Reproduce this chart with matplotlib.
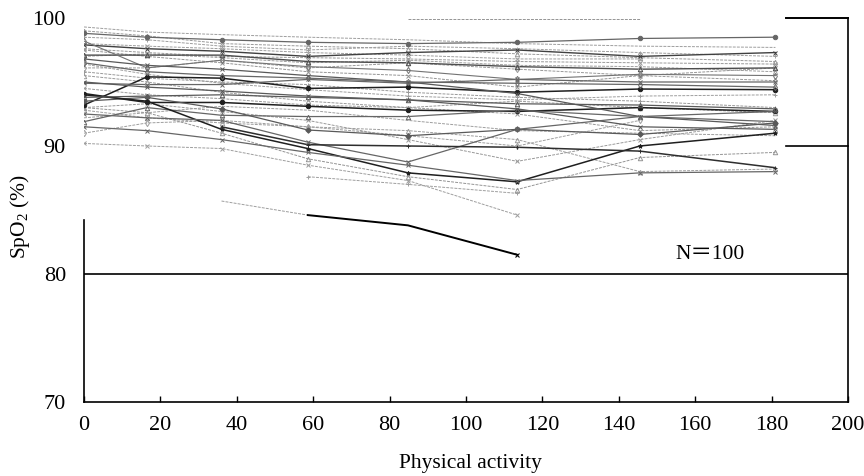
import numpy as np
import matplotlib
matplotlib.use("Agg")
import matplotlib as mpl
import matplotlib.pyplot as plt

mpl.rcParams['mathtext.fontset'] = 'custom'
mpl.rcParams['mathtext.rm'] = 'Liberation Serif'
mpl.rcParams['mathtext.it'] = 'Liberation Serif:italic'

nan = np.nan
# Physical activity measurement points
activity = [0, 16.5, 36, 58.6, 84.8, 113.4, 145.5, 181]

# SpO2 (%) per subject (traced approximately, nan = no measurement)
s_a = [98.8, 98.5, 98.3, 98.1, 98.0, 98.1, 98.4, 98.5]
s_b = [97.9, 97.6, 97.4, 97.0, 97.3, 97.5, 97.0, 97.3]
s_c = [99.0, 98.6, 98.0, 97.8, 97.6, 97.2, 96.9, 96.6]
s_d = [97.1, 97.1, 97.1, 96.6, 96.5, 96.2, 96.0, 96.1]
s_e = [98.2, 96.1, 96.7, 96.2, 95.9, 95.2, 95.6, 95.5]
s_f = [93.2, 95.4, 95.3, 94.5, 94.6, 94.2, 94.45, 94.4]
s_g = [94.9, 94.8, 94.8, 95.2, 94.9, 95.2, 95.0, 95.0]
s_h = [94.1, 93.4, 93.4, 93.1, 92.8, 92.7, 93.0, 92.7]
s_i = [96.1, 96.1, 96.7, 96.1, 96.5, 96.0, 95.5, 95.1]
s_j = [91.9, 93.0, 92.4, 92.3, 92.3, 92.8, 92.3, 91.9]
s_k = [97.5, 97.0, 96.5, 95.8, 95.5, 94.6, 95.5, 96.1]
s_l = [96.8, 96.3, 96.0, 95.5, 95.0, 94.1, 92.3, 91.6]
s_m = [95.5, 95.0, 94.2, 93.5, 93.0, 93.5, 93.0, 92.6]
s_n = [93.5, 93.8, 92.9, 91.25, 90.8, 91.3, 90.9, 91.8]
s_o = [94.0, 93.5, 91.3, 89.8, 87.9, 87.2, 90.0, 91.0]
s_p = [92.5, 92.2, 92.0, 90.3, 88.75, 91.3, 92.3, 92.7]
s_q = [nan, nan, 91.5, 90.1, 90.0, 89.9, 89.6, 88.3]
s_r = [93.0, 92.6, 91.0, 89.0, 87.6, 86.6, 89.1, 89.5]
s_s = [90.2, 90.0, 89.8, 88.5, 87.3, 84.6, nan, nan]
s_t = [91.5, 91.2, 90.5, 89.5, 88.5, 87.3, 87.9, 88.0]
s_u1 = [nan, nan, 85.7, 84.6, nan, nan, nan, nan]
s_u2 = [nan, nan, nan, 84.6, 83.8, 81.5, nan, nan]
s_v = [nan, nan, nan, nan, 99.9, 99.9, 99.9, nan]
s_w = [98.5, 98.3, 97.8, 97.5, 97.8, 97.6, 97.3, 97.0]
s_x = [97.6, 97.3, 97.0, 96.9, 96.8, 96.6, 96.5, 96.4]
s_y = [95.8, 95.3, 95.0, 94.8, 94.2, 93.8, 93.5, 93.0]
s_z = [94.5, 94.0, 93.7, 93.2, 93.0, 92.5, 91.2, 91.5]
s_aa = [92.8, 92.2, 91.8, 91.5, 91.2, 90.5, 88.0, 88.2]
s_ab = [96.5, 95.8, 95.5, 95.3, 95.0, 94.9, 94.8, 94.6]
s_ac = [93.8, 93.9, 94.0, 93.8, 93.6, 93.3, 93.2, 92.9]
s_ad = [97.0, 97.2, 96.9, 96.5, 96.7, 96.3, 96.2, 95.8]
s_ae = [91.0, 91.8, 92.0, 91.5, 90.8, 90.0, 92.0, nan]
s_af = [98.0, 97.8, 97.6, 97.3, 97.1, 96.8, 96.8, nan]
s_ag = [95.0, 94.6, 94.3, 93.9, 93.6, 92.9, 91.5, 91.3]
s_ah = [93.0, 93.3, 92.7, 92.0, 90.5, 88.8, 90.5, 92.0]
s_ai = [nan, nan, nan, 87.6, 87.0, 86.3, nan, nan]
s_aj = [99.3, 98.9, 98.7, 98.5, 98.3, 98.0, 97.8, 97.7]
s_ak = [96.4, 95.6, 94.9, 94.4, 93.9, 93.6, 93.9, 94.0]
s_al = [92.2, 92.6, 93.1, 92.8, 92.0, 91.2, 91.0, 90.8]

# (series, gray level, linewidth, dashed, marker, filled)
series = [
    (s_aj, 0.62, 0.7, True, None, False),
    (s_ak, 0.62, 0.7, True, '+', False),
    (s_al, 0.62, 0.7, True, None, False),
    (s_c, 0.6, 0.7, True, '^', False),
    (s_w, 0.62, 0.7, True, '+', False),
    (s_x, 0.6, 0.7, True, 'x', False),
    (s_ad, 0.62, 0.7, True, '^', False),
    (s_af, 0.62, 0.7, True, 'x', False),
    (s_i, 0.6, 0.7, True, 'd', False),
    (s_k, 0.58, 0.7, True, 'x', False),
    (s_m, 0.6, 0.7, True, '^', False),
    (s_y, 0.6, 0.7, True, '+', False),
    (s_z, 0.6, 0.7, True, 'x', False),
    (s_aa, 0.62, 0.7, True, '^', False),
    (s_ae, 0.62, 0.7, True, 'd', False),
    (s_ah, 0.6, 0.7, True, 'x', False),
    (s_r, 0.58, 0.7, True, '^', False),
    (s_s, 0.62, 0.7, True, 'x', False),
    (s_ai, 0.62, 0.7, True, '+', False),
    (s_u1, 0.62, 0.7, True, None, False),
    (s_v, 0.58, 0.7, True, None, False),
    (s_a, 0.4, 0.9, False, 'o', True),
    (s_b, 0.25, 1.0, False, 'x', False),
    (s_d, 0.3, 1.0, False, '^', False),
    (s_e, 0.45, 0.8, False, 'd', False),
    (s_f, 0.12, 1.1, False, 'o', True),
    (s_g, 0.4, 0.9, False, 'x', False),
    (s_h, 0.12, 1.1, False, 'o', True),
    (s_j, 0.4, 0.9, False, '^', False),
    (s_l, 0.35, 0.9, False, 'x', False),
    (s_n, 0.35, 0.9, False, 'D', True),
    (s_o, 0.12, 1.1, False, '*', True),
    (s_p, 0.4, 0.9, False, 'x', False),
    (s_q, 0.18, 1.1, False, '+', False),
    (s_t, 0.4, 0.9, False, 'x', False),
    (s_ab, 0.4, 0.9, False, 'd', False),
    (s_ac, 0.35, 0.9, False, '^', False),
    (s_ag, 0.35, 0.9, False, 'x', False),
]

fig = plt.figure(figsize=(8.64, 4.76), dpi=100)
ax = fig.add_axes([0.0972, 0.1555, 0.8843, 0.8067])

serif = ['Liberation Serif', 'DejaVu Serif']
x = np.array(activity)
for vals, g, lw, dashed, mk, filled in series:
    v = np.array(vals, dtype=float)
    col = (g, g, g)
    ls = (0, (3, 1.2)) if dashed else '-'
    ax.plot(x, v, color=col, lw=lw, ls=ls, zorder=2)
    if mk is not None:
        ax.plot(x, v, ls='none', marker=mk, ms=3.2 if mk != 'D' else 2.8,
                mfc=col if filled else 'none', mec=col, mew=0.7, zorder=3)

# bold black subject
ax.plot(x, np.array(s_u2), color='black', lw=1.4, zorder=4)
ax.plot(x[5:6], np.array(s_u2)[5:6], ls='none', marker='x', ms=3.5,
        mec='black', mew=0.8, zorder=4)

# reference line at 80 and bracket 90-100 on the right
ax.axhline(80, color='black', lw=1.2, zorder=1)
ax.plot([183.8, 200], [100, 100], color='black', lw=1.4, clip_on=False)
ax.plot([183.8, 200], [90, 90], color='black', lw=1.2, clip_on=False)

ax.set_xlim(0, 200)
ax.set_ylim(70, 100)
ax.spines['top'].set_visible(False)
ax.spines['left'].set_bounds(70, 84.2)
for sp in ['left', 'right', 'bottom']:
    ax.spines[sp].set_linewidth(1.2)

ax.set_xticks(range(0, 201, 20))
ax.set_yticks([70, 80, 90, 100])
ax.tick_params(axis='x', direction='in', length=4, width=1, pad=10,
               labelsize=16)
ax.tick_params(axis='y', length=0, pad=13, labelsize=16)
for lab in ax.get_xticklabels() + ax.get_yticklabels():
    lab.set_fontfamily(serif)

ax.set_xlabel('Physical activity', fontsize=15.5, family=serif)
ax.xaxis.set_label_coords(0.506, -0.135)
ax.set_ylabel('SpO$_2$ (%)', fontsize=15.5, family=serif)
ax.yaxis.set_label_coords(-0.068, 0.484)

ax.text(164, 81.5, 'N＝100', fontsize=15.5,
        family=['Liberation Serif', 'Noto Sans CJK JP'],
        ha='center', va='center')

fig.savefig('out.png', dpi=100)
